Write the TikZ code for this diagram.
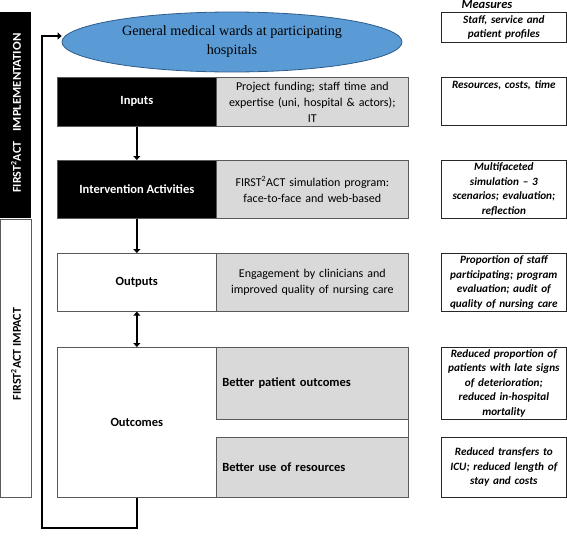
\documentclass[tikz,border=0pt]{standalone}
\usepackage{fontspec}
\setmainfont{Carlito}
\newfontfamily\wardfont{Liberation Serif}
\usetikzlibrary{arrows.meta,positioning,shapes.geometric}
\definecolor{wardblue}{HTML}{5B9BD5}
\definecolor{wardedge}{HTML}{2E5C8A}
\definecolor{boxgrey}{HTML}{D9D9D9}
\tikzset{>={Triangle[length=4pt,width=7pt]}}
\tikzset{
	stage/.style={draw=black!65, line width=0.7pt, anchor=north west, inner sep=0pt,
			minimum width=159pt, font=\fontsize{12.5}{15}\selectfont\bfseries},
	detail/.style={draw=black!65, line width=0.7pt, fill=boxgrey, anchor=north west, inner sep=0pt,
			minimum width=192pt, text width=190pt, align=center, font=\fontsize{12}{16}\selectfont},
	measure/.style={draw=black!85, line width=0.7pt, anchor=north west, inner sep=0pt,
			minimum width=125pt, text width=123pt, align=center, font=\fontsize{11.2}{14.5}\selectfont\bfseries\itshape},
	flow/.style={line width=2.5pt},
	bar/.style={anchor=north west, inner sep=0pt, minimum width=31pt, line width=0.7pt},
	barlabel/.style={rotate=90, inner sep=0pt, font=\fontsize{12}{14}\selectfont\bfseries},
}
\begin{document}
\begin{tikzpicture}[x=1pt, y=-1pt]
	\useasboundingbox (0,0) rectangle (567,536);

	% side bars
	\node[bar, fill=black, minimum height=206pt] (implbar) at (0,12) {};
	\node[barlabel, text=white] at (16,113) {FIRST\textsuperscript{2}ACT\hspace{10pt}\scalebox{1.07}[1]{IMPLEMENTATION}};
	\node[bar, draw=black!65, minimum height=278pt] (impactbar) at (0,219) {};
	\node[barlabel] at (16,354) {FIRST\textsuperscript{2}ACT IMPACT};

	% setting
	\node[ellipse, draw=wardedge, line width=0.8pt, fill=wardblue, minimum width=340pt, minimum height=60pt,
		inner sep=0pt, align=center, font=\wardfont\fontsize{14.2}{19}\selectfont] (ward) at (232,42)
		{General medical wards at participating\\hospitals};

	% logic model rows
	\node[stage, fill=black, text=white, minimum height=49pt] (inputs) at (57,77) {Inputs};
	\node[detail, minimum height=49pt] (inputsdetail) at (216,77)
		{Project funding; staff time and\\expertise (uni, hospital \& actors);\\IT};

	\node[stage, fill=black, text=white, minimum height=58pt] (activities) at (57,160) {Intervention Activities};
	\node[detail, minimum height=58pt] (activitiesdetail) at (216,160)
		{FIRST\textsuperscript{2}ACT simulation program:\\face-to-face and web-based};

	\node[stage, fill=white, minimum height=58pt] (outputs) at (57,253) {Outputs};
	\node[detail, minimum height=58pt] (outputsdetail) at (216,253)
		{Engagement by clinicians and\\improved quality of nursing care};

	\node[draw=black!65, line width=0.7pt, anchor=north west, minimum width=351pt, minimum height=150pt] (outcomesframe) at (57,347) {};
	\node[stage, draw=none, minimum height=150pt] (outcomes) at (57,347) {Outcomes};
	\node[detail, minimum height=72pt, text width=180pt, align=left, font=\fontsize{12.5}{15}\selectfont\bfseries] (patients) at (216,347)
		{Better patient outcomes};
	\node[detail, minimum height=60pt, text width=180pt, align=left, font=\fontsize{12.5}{15}\selectfont\bfseries] (resources) at (216,437)
		{Better use of resources};

	% measures
	\node[anchor=north, inner sep=0pt, font=\fontsize{12.5}{13}\selectfont\bfseries\itshape] (measures) at (487,0) {Measures};
	\node[measure, minimum height=30pt] (m1) at (441,12) {Staff, service and\\patient profiles};
	\node[measure, text height=10pt, text depth=36pt, inner sep=1pt] (m2) at (441,77) {Resources, costs, time};
	\node[measure, minimum height=58pt] (m3) at (441,160) {Multifaceted\\simulation -- 3\\scenarios; evaluation;\\reflection};
	\node[measure, minimum height=58pt] (m4) at (441,253) {Proportion of staff\\participating; program\\evaluation; audit of\\quality of nursing care};
	\node[measure, minimum height=72pt] (m5) at (441,347) {Reduced proportion of\\patients with late signs\\of deterioration;\\reduced in-hospital\\mortality};
	\node[measure, minimum height=60pt] (m6) at (441,437) {Reduced transfers to\\ICU; reduced length of\\stay and costs};

	% connectors
	\coordinate (loop) at (42,528);
	\draw[flow, ->] (inputs.south) -- (activities.north);
	\draw[flow, ->] (activities.south) -- (outputs.north);
	\draw[flow, <->] (outputs.south) -- (outcomes.north);
	\draw[flow, ->] (outcomes.south) |- (loop) |- ([yshift=6pt]ward.west);
\end{tikzpicture}
\end{document}
